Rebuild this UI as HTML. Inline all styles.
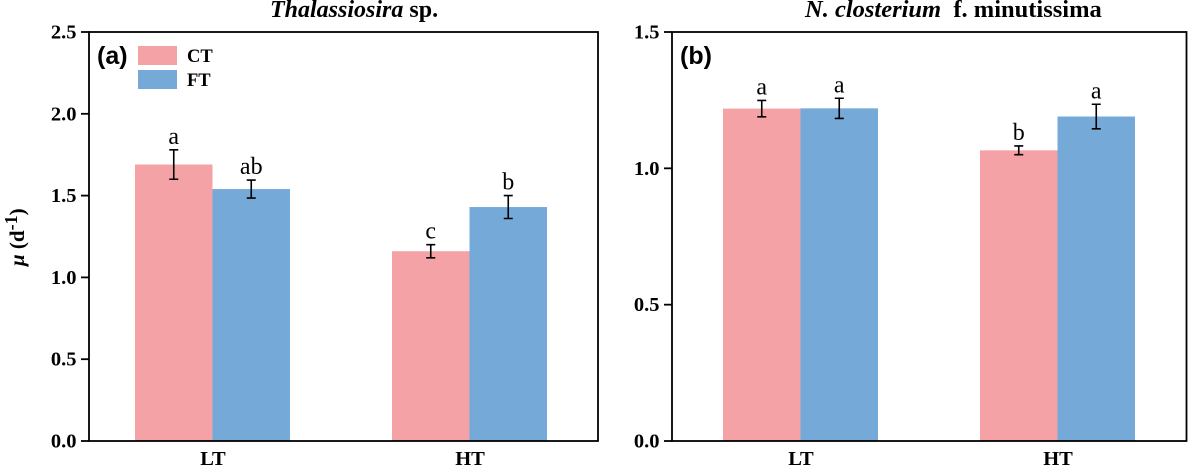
<!DOCTYPE html>
<html>
<head>
<meta charset="utf-8">
<style>
html,body{margin:0;padding:0;background:#fff;}
svg{display:block;}
text{font-family:"Liberation Serif",serif;fill:#000;}
</style>
</head>
<body>
<svg id="chart" width="1188" height="467" viewBox="0 0 1188 467" xmlns="http://www.w3.org/2000/svg">
<text x="270" y="17" font-size="24" font-weight="bold"><tspan font-style="italic">Thalassiosira</tspan> sp.</text>
<text x="805" y="17" font-size="24.5" font-weight="bold" xml:space="preserve"><tspan font-style="italic">N. closterium</tspan>  f. minutissima</text>
<text transform="translate(24 266) rotate(-90)" font-size="21" font-weight="bold"><tspan font-style="italic">μ</tspan> (d<tspan font-size="18" dy="-7">-1</tspan><tspan dy="7">)</tspan></text>
<text x="97" y="64" font-size="25" font-weight="bold" style="font-family:'Liberation Sans',sans-serif">(a)</text>
<text x="680" y="64" font-size="25" font-weight="bold" style="font-family:'Liberation Sans',sans-serif">(b)</text>
<rect x="138" y="46" width="39" height="19" fill="#f5a2a6"/>
<rect x="138" y="70" width="39" height="19" fill="#75aad8"/>
<text x="187" y="62" font-size="18.5" font-weight="bold">CT</text>
<text x="187" y="86" font-size="18.5" font-weight="bold">FT</text>
<g id="plots"></g>
</svg>
<script>
const categories = ['LT', 'HT'];
const seriesNames = ['CT', 'FT'];
const seriesColors = ['#f5a2a6', '#75aad8'];
const panelAValues = [[1.69, 1.16], [1.54, 1.43]];
const panelAErrors = [[0.09, 0.04], [0.055, 0.07]];
const panelALetters = [['a', 'c'], ['ab', 'b']];
const panelATicks = [0, 0.5, 1, 1.5, 2, 2.5];
const panelBValues = [[1.219, 1.066], [1.22, 1.19]];
const panelBErrors = [[0.03, 0.016], [0.037, 0.045]];
const panelBLetters = [['a', 'b'], ['a', 'a']];
const panelBTicks = [0, 0.5, 1, 1.5];

const NS = 'http://www.w3.org/2000/svg';
const plots = document.getElementById('plots');

function makeShape(tag, attrs, parent) {
  const el = document.createElementNS(NS, tag);
  for (const k in attrs) el.setAttribute(k, attrs[k]);
  parent.appendChild(el);
  return el;
}

function drawPanel(id, left, right, firstBar, groupGap, yMax, values, errors, letters, ticks) {
  const top = 32, bottom = 441, barW = 77.5;
  const y = function (v) { return bottom - (v / yMax) * (bottom - top); };
  const groupX = function (g) { return firstBar + g * groupGap; };
  const barX = function (g, s) { return groupX(g) + s * barW; };
  const g = makeShape('g', {}, plots);
  
  

  values.forEach(function (series, s) {
    series.forEach(function (v, c) {
      const bar = makeShape('rect', { x: barX(c, s), y: y(v), width: barW, height: bottom - y(v), fill: seriesColors[s] }, g);
      
      
      const cx = barX(c, s) + barW / 2;
      const hi = y(v + errors[s][c]);
      const lo = y(v - errors[s][c]);
      const err = makeShape('path', {
        d: 'M' + (cx - 4.5) + ' ' + hi + 'H' + (cx + 4.5) + 'M' + cx + ' ' + hi + 'V' + lo + 'M' + (cx - 4.5) + ' ' + lo + 'H' + (cx + 4.5),
        stroke: '#000', 'stroke-width': 1.6, fill: 'none'
      }, g);
      
      
      const t = makeShape('text', { x: cx, y: hi - 6, 'text-anchor': 'middle', 'font-size': 24 }, g);
      t.textContent = letters[s][c];
      
      
    });
  });

  const frame = makeShape('rect', { x: left, y: top, width: right - left, height: bottom - top, fill: 'none', stroke: '#000', 'stroke-width': 1.8 }, g);
  
  

  ticks.forEach(function (v) {
    const tick = makeShape('line', { x1: left - 8, x2: left, y1: y(v), y2: y(v), stroke: '#000', 'stroke-width': 1.8 }, g);
    
    
    const label = makeShape('text', { x: left - 12.5, y: y(v) + 6.5, 'text-anchor': 'end', 'font-size': 20.5, 'font-weight': 'bold' }, g);
    label.textContent = v.toFixed(1);
    
    
  });

  categories.forEach(function (name, c) {
    const label = makeShape('text', { x: groupX(c) + barW + 0.5, y: 465, 'text-anchor': 'middle', 'font-size': 20.5, 'font-weight': 'bold' }, g);
    label.textContent = name;
    
    
  });
}

drawPanel('panel-a', 89, 598, 135, 257, 2.5, panelAValues, panelAErrors, panelALetters, panelATicks);
drawPanel('panel-b', 672, 1186.5, 723, 257, 1.5, panelBValues, panelBErrors, panelBLetters, panelBTicks);
</script>
</body>
</html>
